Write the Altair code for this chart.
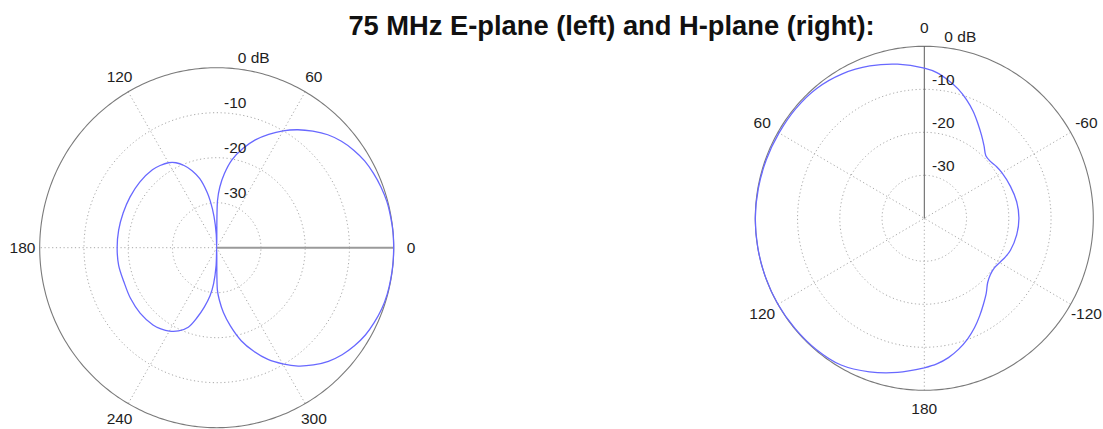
import numpy as np
import pandas as pd
import altair as alt

TITLE = "75 MHz E-plane (left) and H-plane (right):"

# E-plane pattern: angle in degrees (counter-clockwise from the 0 direction), gain in dB
e_angle = [0, 5, 10, 15, 20, 25, 30, 35, 40, 45, 50, 55, 60, 65, 70, 75, 80, 84, 87, 89,
           90, 92, 95, 98, 100, 104, 108, 112, 116, 120, 125, 130, 140, 150, 160, 170, 180,
           190, 200, 210, 220, 230, 235, 240, 245, 250, 254, 258, 262, 265, 268, 270,
           271, 273, 276, 280, 285, 290, 295, 300, 305, 310, 315, 320, 325, 330, 335, 340, 345, 350, 355, 360]
e_db = [0.0, 0.0, -0.1, -0.2, -0.5, -0.9, -1.4, -2.2, -3.2, -4.5, -6.2, -8.0, -10.0, -12.2, -14.5, -17.2, -20.2, -23.5, -26.5, -29.5,
        -40.0, -37.0, -33.0, -29.5, -27.5, -24.2, -22.0, -20.3, -19.0, -18.2, -17.7, -17.4, -17.3, -17.4, -17.5, -17.5, -17.5,
        -17.5, -17.7, -17.5, -17.4, -17.6, -18.0, -18.6, -19.6, -21.2, -23.8, -26.5, -29.2, -32.0, -36.0, -40.0,
        -30.5, -28.3, -25.5, -22.4, -18.6, -15.5, -12.6, -10.2, -7.9, -6.0, -4.3, -3.0, -2.0, -1.2, -0.7, -0.3, -0.1, -0.05, 0.0, 0.0]

# H-plane pattern: angle in degrees (counter-clockwise from the 0 direction at top), gain in dB
h_angle = [-180, -175, -170, -165, -160, -155, -150, -145, -140, -135, -130, -125, -120, -115, -110,
           -100, -90, -80, -70, -60,
           -55, -50, -45, -40, -35, -30, -25, -20, -15, -10, -5, 0,
           10, 20, 30, 40, 50, 60, 70, 80, 90, 100, 110, 120, 130, 140, 150, 160, 170, 180]
h_db = [-5.2, -6.0, -7.1, -8.5, -10.1, -11.9, -13.8, -15.6, -17.2, -18.8, -19.6, -19.8, -19.4, -18.8, -18.3,
        -17.8, -17.6, -17.8, -18.3, -18.8,
        -19.1, -19.5, -19.4, -18.0, -16.4, -14.6, -12.6, -10.7, -8.9, -7.4, -6.0, -5.1,
        -3.6, -2.3, -1.2, -0.5, -0.3, -0.3, -0.2, -0.1, 0.0, 0.0, 0.0, 0.0, -0.1, -0.2, -0.6, -2.0, -3.6, -5.2]

assert len(e_angle) == len(e_db) and len(h_angle) == len(h_db)

FLOOR_DB = -40
ring_db = [-30, -20, -10]
ring_text = ["-30", "-20", "-10"]
e_ticks = [0, 60, 120, 180, 240, 300]
e_tick_text = ["0", "60", "120", "180", "240", "300"]
h_ticks = [0, 60, 120, 180, -120, -60]
h_tick_text = ["0", "60", "120", "180", "-120", "-60"]

W, H = 1103, 429

# polar frames: centre, pixels per dB (x / y), rotation of the 0 direction
panels = {
    "E": dict(cx=216.7, cy=247.7, kx=177 / 40, ky=180 / 40, rot=0.0, lab_r=43.9,
              ring_dx=18.5, top_dx=37.0),
    "H": dict(cx=924.3, cy=218.3, kx=169 / 40, ky=172 / 40, rot=90.0, lab_r=44.3,
              ring_dx=19.0, top_dx=36.0),
}


def project(p, ang, db):
    r = np.asarray(db, float) - FLOOR_DB
    t = np.radians(np.asarray(ang, float) + p["rot"])
    return p["cx"] + p["kx"] * r * np.cos(t), p["cy"] - p["ky"] * r * np.sin(t)


def path_rows(rows, pid, p, ang, db, **extra):
    xs, ys = project(p, ang, db)
    for k, (x, y) in enumerate(zip(xs, ys)):
        rows.append(dict(id=pid, k=k, x=x, y=y, **extra))


full_turn = np.linspace(0, 360, 361)

ring_rows, outer_rows, spoke_rows, axis_rows, curve_rows = [], [], [], [], []
for name, p in panels.items():
    for d in ring_db:
        path_rows(ring_rows, f"{name}{d}", p, full_turn, np.full_like(full_turn, d))
    path_rows(outer_rows, f"{name}o", p, full_turn, np.zeros_like(full_turn))
    path_rows(spoke_rows, f"{name}s1", p, [60, 240], [0, 0])
    path_rows(spoke_rows, f"{name}s2", p, [120, 300], [0, 0])
    path_rows(spoke_rows, f"{name}s3", p, [180, 180], [FLOOR_DB, 0])

path_rows(axis_rows, "Ea", panels["E"], [0, 0], [FLOOR_DB, 0], col="#9a9a9a", sw=2.0)
path_rows(axis_rows, "Ha", panels["H"], [0, 0], [FLOOR_DB, 0], col="#5a5a5a", sw=1.0)
path_rows(curve_rows, "E", panels["E"], e_angle, e_db)
path_rows(curve_rows, "H", panels["H"], h_angle, h_db)

label_rows = []
for name, ticks, texts in (("E", e_ticks, e_tick_text), ("H", h_ticks, h_tick_text)):
    p = panels[name]
    xs, ys = project(p, ticks, np.full(len(ticks), p["lab_r"] + FLOOR_DB))
    for x, y, t in zip(xs, ys, texts):
        label_rows.append(dict(x=x, y=y, text=t))
    for d, t in zip(ring_db + [0], ring_text + ["0 dB"]):
        r = d - FLOOR_DB
        dx = p["top_dx"] if d == 0 else p["ring_dx"]
        label_rows.append(dict(x=p["cx"] + dx, y=p["cy"] - p["ky"] * r - 9.5, text=t))

title_df = pd.DataFrame([dict(x=611.5, y=35.0, text=TITLE)])

xs = alt.Scale(domain=[0, W], nice=False, zero=False)
ys = alt.Scale(domain=[0, H], nice=False, zero=False, reverse=True)
X = alt.X("x:Q", scale=xs, axis=None)
Y = alt.Y("y:Q", scale=ys, axis=None)

rings = alt.Chart(pd.DataFrame(ring_rows)).mark_line(
    color="#a8a8a8", strokeWidth=1, strokeDash=[1.2, 2.6]
).encode(x=X, y=Y, detail="id:N", order="k:Q")

spokes = alt.Chart(pd.DataFrame(spoke_rows)).mark_line(
    color="#a8a8a8", strokeWidth=1, strokeDash=[1.2, 2.6]
).encode(x=X, y=Y, detail="id:N", order="k:Q")

outer = alt.Chart(pd.DataFrame(outer_rows)).mark_line(
    color="#7a7a7a", strokeWidth=1.1
).encode(x=X, y=Y, detail="id:N", order="k:Q")

axes0 = alt.Chart(pd.DataFrame(axis_rows)).mark_line().encode(
    x=X, y=Y, detail="id:N", order="k:Q",
    color=alt.Color("col:N", scale=None),
    strokeWidth=alt.StrokeWidth("sw:Q", scale=None),
)

curves = alt.Chart(pd.DataFrame(curve_rows)).mark_line(
    color="#6868ff", strokeWidth=1.3, interpolate="catmull-rom"
).encode(x=X, y=Y, detail="id:N", order="k:Q")

labels = alt.Chart(pd.DataFrame(label_rows)).mark_text(
    font="Liberation Sans", fontSize=15.5, color="#1e1e1e", align="center", baseline="middle"
).encode(x=X, y=Y, text="text:N")

title = alt.Chart(title_df).mark_text(
    font="Liberation Sans", fontSize=27.3, fontWeight="bold", color="#111111",
    align="center", baseline="alphabetic"
).encode(x=X, y=Y, text="text:N")

chart = alt.layer(rings, spokes, outer, axes0, curves, labels, title).properties(
    width=W, height=H, padding=0, autosize=alt.AutoSizeParams(type="none"),
    background="white",
).configure_view(stroke=None)

chart.save("out.html", embed_options={"renderer": "svg", "actions": False})
